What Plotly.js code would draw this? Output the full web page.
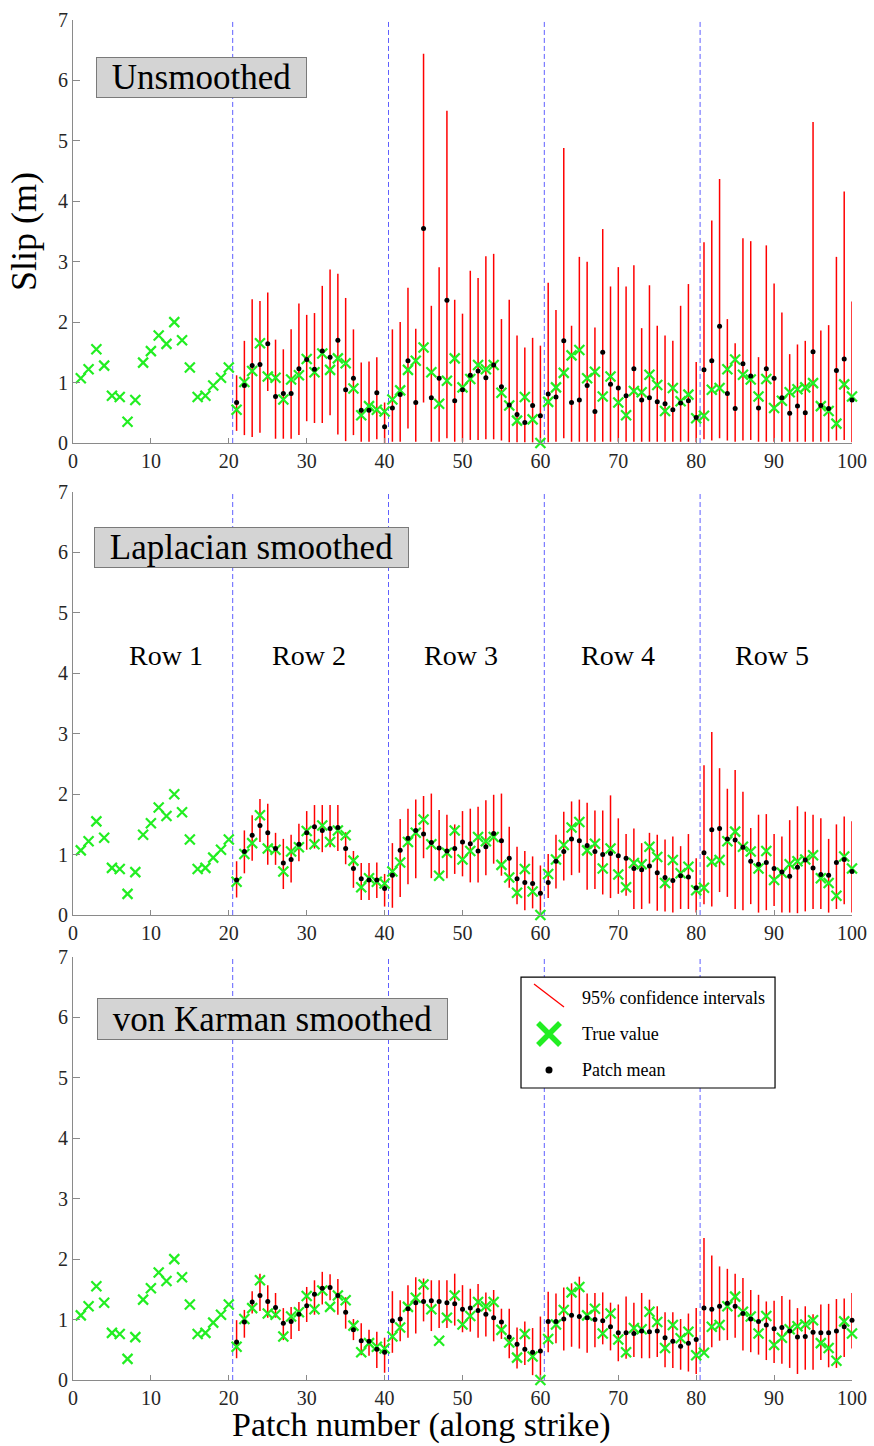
<!DOCTYPE html>
<html>
<head>
<meta charset="utf-8">
<script src="https://cdn.plot.ly/plotly-3.0.1.min.js"></script>
<style>
  html, body { margin: 0; padding: 0; background: #fff; }
  #chart { width: 874px; height: 1446px; }
</style>
</head>
<body>
<div id="chart"></div>
<script>
// Patch numbers along strike (5 rows of 20 patches)
const patchAll = [1,2,3,4,5,6,7,8,9,10,11,12,13,14,15,16,17,18,19,20,
  21,22,23,24,25,26,27,28,29,30,31,32,33,34,35,36,37,38,39,40,
  41,42,43,44,45,46,47,48,49,50,51,52,53,54,55,56,57,58,59,60,
  61,62,63,64,65,66,67,68,69,70,71,72,73,74,75,76,77,78,79,80,
  81,82,83,84,85,86,87,88,89,90,91,92,93,94,95,96,97,98,99,100];
// Patches with inverted slip (rows 2-5)
const patchInv = patchAll.slice(20);

// True slip (m) for every patch
const trueSlip = [1.07,1.22,1.55,1.28,0.78,0.76,0.35,0.71,1.33,1.52,
  1.78,1.64,2.00,1.70,1.25,0.76,0.78,0.95,1.08,1.25,
  0.55,1.01,1.19,1.65,1.10,1.08,0.72,1.05,1.12,1.39,
  1.17,1.48,1.21,1.40,1.32,0.90,0.46,0.61,0.55,0.52,
  0.72,0.87,1.21,1.36,1.58,1.17,0.65,1.03,1.40,0.92,
  1.06,1.29,1.22,1.29,0.83,0.62,0.37,0.76,0.39,0.00,
  0.68,0.92,1.16,1.45,1.54,1.07,1.18,0.77,1.10,0.67,
  0.46,0.86,0.84,1.13,0.96,0.53,0.91,0.69,0.80,0.41,
  0.45,0.88,0.91,1.22,1.38,1.13,1.05,0.77,1.06,0.58,
  0.70,0.84,0.89,0.92,0.99,0.61,0.53,0.32,0.97,0.77];

// Unsmoothed inversion: patch mean and 95% interval
const unsMean = [0.67,0.95,1.28,1.30,1.64,0.77,0.82,0.82,1.23,1.38,
  1.22,1.52,1.42,1.70,0.88,1.07,0.54,0.54,0.83,0.27,
  0.58,0.80,1.36,0.67,3.55,0.75,1.07,2.36,0.70,0.88,
  1.12,1.19,1.08,1.29,0.93,0.63,0.47,0.34,0.62,0.45,
  0.81,0.76,1.69,0.67,0.71,0.95,0.52,1.50,0.97,0.91,
  0.78,1.23,0.71,0.75,0.68,0.65,0.55,0.66,0.70,0.42,
  1.21,1.36,1.93,0.82,0.57,1.31,1.11,0.58,1.23,1.07,
  0.75,0.49,0.61,0.50,1.51,0.62,0.57,1.20,1.39,0.71];
const unsHigh = [1.12,1.69,2.38,2.35,2.49,1.71,1.55,1.88,2.31,2.12,
  2.15,2.60,2.87,2.80,2.40,1.88,1.33,1.35,1.42,0.67,
  1.88,2.00,2.57,1.89,6.44,2.27,2.91,5.50,2.37,2.14,
  2.85,2.73,3.09,3.13,2.05,2.37,1.78,1.58,1.74,1.61,
  2.65,2.20,4.88,1.94,3.08,3.00,1.91,3.54,2.59,2.91,
  2.59,2.94,1.90,2.61,1.94,1.78,1.69,2.27,2.63,1.34,
  3.32,3.68,4.37,2.05,1.65,3.39,3.34,1.42,3.27,2.64,
  2.16,1.47,1.63,1.69,5.31,1.86,1.95,3.08,4.16,2.34];
const unsLow = [0.20,0.13,0.10,0.17,0.86,0.07,0.07,0.07,0.13,0.36,
  0.33,0.33,0.46,0.14,0.03,0.13,0.02,0.02,0.06,0.00,
  0.02,0.02,0.24,0.02,0.67,0.02,0.02,0.08,0.02,0.02,
  0.05,0.05,0.06,0.06,0.04,0.01,0.01,0.01,0.01,0.01,
  0.01,0.02,0.08,0.02,0.02,0.02,0.02,0.02,0.02,0.02,
  0.02,0.02,0.02,0.02,0.02,0.02,0.02,0.02,0.02,0.01,
  0.06,0.04,0.08,0.04,0.02,0.04,0.05,0.02,0.02,0.02,
  0.02,0.02,0.02,0.02,0.02,0.02,0.02,0.04,0.05,0.01];

// Laplacian smoothed inversion
const lapMean = [0.58,1.05,1.32,1.48,1.36,1.10,0.86,0.92,1.17,1.36,
  1.46,1.40,1.43,1.45,1.10,0.77,0.60,0.58,0.58,0.44,
  0.66,1.07,1.27,1.40,1.34,1.20,1.11,1.06,1.10,1.21,
  1.18,1.06,1.13,1.35,1.23,0.94,0.60,0.54,0.52,0.36,
  0.54,0.89,1.05,1.26,1.23,1.15,1.05,1.00,1.02,0.98,
  0.94,0.77,0.75,0.81,0.70,0.62,0.57,0.65,0.63,0.45,
  1.03,1.41,1.43,1.26,1.24,1.12,0.89,0.84,0.87,0.77,
  0.71,0.64,0.79,0.91,0.78,0.67,0.66,0.87,0.92,0.72];
const lapHigh = [0.89,1.40,1.65,1.92,1.84,1.36,1.26,1.33,1.51,1.72,
  1.82,1.82,1.82,1.82,1.37,1.06,0.86,0.86,0.87,0.68,
  1.19,1.59,1.76,1.91,1.97,2.01,1.74,1.66,1.50,1.72,
  1.76,1.79,1.90,1.99,2.01,1.46,1.13,1.06,0.97,0.82,
  1.01,1.33,1.71,1.88,1.91,1.86,1.73,1.73,1.98,1.60,
  1.34,1.43,1.19,1.36,1.33,1.25,1.30,1.14,1.34,0.94,
  2.48,3.03,2.43,2.09,2.40,2.04,1.44,1.66,1.67,1.34,
  1.30,1.57,1.80,1.71,1.66,1.60,1.26,1.50,1.63,1.55];
const lapLow = [0.29,0.69,0.90,1.21,0.83,0.83,0.43,0.54,0.89,1.08,
  1.10,1.04,1.12,1.06,0.84,0.45,0.25,0.25,0.28,0.14,
  0.12,0.30,0.51,0.61,0.94,0.61,0.64,0.61,0.68,0.64,
  0.54,0.54,0.66,0.85,0.65,0.45,0.18,0.08,0.11,0.00,
  0.28,0.44,0.57,0.66,0.70,0.42,0.43,0.34,0.28,0.35,
  0.32,0.10,0.10,0.19,0.07,0.06,0.04,0.10,0.10,0.04,
  0.18,0.14,0.38,0.30,0.10,0.08,0.18,0.04,0.08,0.15,
  0.04,0.04,0.03,0.06,0.10,0.10,0.04,0.10,0.18,0.04];

// von Karman smoothed inversion
const vkMean = [0.63,0.96,1.29,1.40,1.30,1.20,0.94,0.97,1.09,1.23,
  1.42,1.52,1.53,1.40,1.12,0.83,0.65,0.64,0.51,0.46,
  0.98,1.01,1.18,1.28,1.30,1.31,1.30,1.28,1.26,1.17,
  1.19,1.15,1.09,1.03,0.96,0.71,0.59,0.51,0.46,0.48,
  0.97,0.97,1.01,1.07,1.05,1.03,1.00,0.98,0.88,0.78,
  0.78,0.77,0.81,0.80,0.81,0.70,0.64,0.56,0.61,0.67,
  1.19,1.17,1.22,1.27,1.22,1.10,1.01,0.97,0.91,0.85,
  0.87,0.81,0.71,0.72,0.79,0.78,0.78,0.81,0.88,0.99];
const vkHigh = [0.99,1.16,1.47,1.76,1.57,1.44,1.19,1.21,1.29,1.54,
  1.65,1.79,1.75,1.67,1.37,1.01,0.94,0.83,0.80,0.70,
  1.47,1.32,1.57,1.70,1.68,1.65,1.65,1.65,1.76,1.57,
  1.51,1.59,1.45,1.49,1.18,1.18,0.87,0.97,0.86,1.05,
  1.46,1.43,1.53,1.60,1.71,1.43,1.44,1.45,1.28,1.25,
  1.38,1.28,1.44,1.33,1.22,1.12,1.12,1.01,1.10,1.19,
  2.35,2.06,1.88,1.84,1.76,1.69,1.49,1.41,1.30,1.31,
  1.39,1.33,1.19,1.22,1.09,1.25,1.26,1.34,1.35,1.44];
const vkLow = [0.36,0.70,1.10,1.14,1.03,1.03,0.66,0.68,0.81,0.96,
  1.08,1.25,1.32,1.08,0.85,0.66,0.41,0.40,0.20,0.12,
  0.45,0.64,0.70,0.77,0.97,0.81,0.86,0.86,0.90,0.79,
  0.80,0.70,0.72,0.64,0.68,0.36,0.19,0.25,0.08,0.03,
  0.46,0.61,0.49,0.55,0.52,0.45,0.54,0.59,0.49,0.31,
  0.35,0.38,0.36,0.36,0.38,0.21,0.20,0.17,0.14,0.10,
  0.46,0.54,0.65,0.66,0.70,0.49,0.46,0.42,0.33,0.28,
  0.27,0.20,0.10,0.17,0.17,0.33,0.21,0.20,0.38,0.52];

// Row boundaries and row labels
const rowEdges = [20.5, 40.5, 60.5, 80.5];
const rowNames = ['Row 1', 'Row 2', 'Row 3', 'Row 4', 'Row 5'];
const rowLabelX = [11.9, 30.3, 49.8, 70.0, 89.7];
const rowLabelY = 4.3;
const panelTitles = ['Unsmoothed', 'Laplacian smoothed', 'von Karman smoothed'];
const legendLabels = ['95% confidence intervals', 'True value', 'Patch mean'];
const xTicks = [0, 10, 20, 30, 40, 50, 60, 70, 80, 90, 100];
const yTicks = [0, 1, 2, 3, 4, 5, 6, 7];

const SERIF = '"Liberation Serif", "Times New Roman", serif';
const GREEN = '#22ee22';
const AXIS_GREY = '#8a8a8a';
const DASH_BLUE = 'rgb(95,95,255)';

const panels = [
  { mean: unsMean, low: unsLow, high: unsHigh },
  { mean: lapMean, low: lapLow, high: lapHigh },
  { mean: vkMean,  low: vkLow,  high: vkHigh }
];

const traces = [];
panels.forEach((p, i) => {
  const xa = i === 0 ? 'x' : 'x' + (i + 1);
  const ya = i === 0 ? 'y' : 'y' + (i + 1);
  // 95% interval as vertical error bars around the mean
  traces.push({
    x: patchInv, y: p.mean, xaxis: xa, yaxis: ya,
    type: 'scatter', mode: 'markers',
    marker: { size: 1, opacity: 0 },
    error_y: {
      type: 'data', symmetric: false,
      array: p.high.map((h, k) => h - p.mean[k]),
      arrayminus: p.low.map((l, k) => p.mean[k] - l),
      color: '#ff0000', thickness: 1.5, width: 0
    },
    cliponaxis: false, hoverinfo: 'skip', showlegend: false
  });
  // true slip
  traces.push({
    x: patchAll, y: trueSlip, xaxis: xa, yaxis: ya,
    type: 'scatter', mode: 'markers',
    marker: { symbol: 'x-thin', size: 10, color: GREEN, line: { color: GREEN, width: 2.2 } },
    cliponaxis: false, hoverinfo: 'skip', showlegend: false
  });
  // posterior patch mean
  traces.push({
    x: patchInv, y: p.mean, xaxis: xa, yaxis: ya,
    type: 'scatter', mode: 'markers',
    marker: { symbol: 'circle', size: 5, color: '#000' },
    cliponaxis: false, hoverinfo: 'skip', showlegend: false
  });
});

// Legend glyphs, drawn in a small helper subplot
traces.push({
  x: [13, 43], y: [104, 81], xaxis: 'x4', yaxis: 'y4',
  type: 'scatter', mode: 'lines', line: { color: '#ff0000', width: 1.3 },
  hoverinfo: 'skip', showlegend: false
});
traces.push({
  x: [28], y: [54], xaxis: 'x4', yaxis: 'y4',
  type: 'scatter', mode: 'markers',
  marker: { symbol: 'x-thin', size: 22, color: GREEN, line: { color: GREEN, width: 5.5 } },
  hoverinfo: 'skip', showlegend: false
});
traces.push({
  x: [28], y: [18], xaxis: 'x4', yaxis: 'y4',
  type: 'scatter', mode: 'markers',
  marker: { symbol: 'circle', size: 7, color: '#000' },
  hoverinfo: 'skip', showlegend: false
});

function xAxis(anchor) {
  return {
    anchor: anchor, domain: [0, 1], range: [0, 100],
    tickmode: 'array', tickvals: xTicks, ticktext: xTicks.map(String),
    ticks: 'inside', ticklen: 5, tickcolor: AXIS_GREY, tickwidth: 1,
    showline: true, linecolor: AXIS_GREY, linewidth: 1,
    showgrid: false, zeroline: false, fixedrange: true,
    tickfont: { family: SERIF, size: 20, color: '#262626' }
  };
}
function yAxis(anchor, domain) {
  return {
    anchor: anchor, domain: domain, range: [0, 7],
    tickmode: 'array', tickvals: yTicks, ticktext: yTicks.map(String),
    ticks: 'inside', ticklen: 7, tickcolor: AXIS_GREY, tickwidth: 1,
    showline: true, linecolor: AXIS_GREY, linewidth: 1,
    showgrid: false, zeroline: false, fixedrange: true,
    tickfont: { family: SERIF, size: 20, color: '#262626' }
  };
}

const layout = {
  width: 874, height: 1446,
  margin: { l: 73, r: 22, t: 20, b: 66 },
  paper_bgcolor: '#fff', plot_bgcolor: 'rgba(0,0,0,0)',
  showlegend: false,
  xaxis: xAxis('y'),
  yaxis: Object.assign(yAxis('x', [0.689, 1.0]), {
    title: { text: 'Slip (m)', font: { family: SERIF, size: 36, color: '#000' }, standoff: 10 }
  }),
  xaxis2: xAxis('y2'),
  yaxis2: yAxis('x2', [0.3419, 0.6529]),
  xaxis3: xAxis('y3'),
  yaxis3: yAxis('x3', [0, 0.311]),
  xaxis4: { anchor: 'y4', domain: [0.5751, 0.9012], range: [0, 254], visible: false, fixedrange: true },
  yaxis4: { anchor: 'x4', domain: [0.2147, 0.2963], range: [0, 111], visible: false, fixedrange: true },
  shapes: [],
  annotations: []
};

// dashed row boundaries in every panel
['', '2', '3'].forEach(s => {
  rowEdges.forEach(xv => {
    layout.shapes.push({
      type: 'line', xref: 'x' + s, yref: 'y' + s + ' domain',
      x0: xv, x1: xv, y0: 0, y1: 1, layer: 'below',
      line: { color: DASH_BLUE, width: 1, dash: '5px,3px' }
    });
  });
});
// legend frame
layout.shapes.push({
  type: 'rect', xref: 'x4 domain', yref: 'y4 domain',
  x0: 0, x1: 1, y0: 0, y1: 1, layer: 'below',
  fillcolor: '#fff', line: { color: '#000', width: 1.2 }
});

// panel titles in grey boxes
const titleBoxes = [
  { xref: 'x domain',  yref: 'y domain',  x: 0.0295, y: 0.9125, w: 209, h: 39 },
  { xref: 'x2 domain', yref: 'y2 domain', x: 0.0270, y: 0.9173, w: 313, h: 39 },
  { xref: 'x3 domain', yref: 'y3 domain', x: 0.0308, y: 0.9031, w: 349, h: 40 }
];
panelTitles.forEach((t, i) => {
  const b = titleBoxes[i];
  layout.annotations.push({
    text: t, xref: b.xref, yref: b.yref, x: b.x, y: b.y,
    xanchor: 'left', yanchor: 'top', showarrow: false,
    width: b.w, height: b.h, align: 'center', valign: 'middle',
    bgcolor: '#d4d4d4', bordercolor: '#7a7a7a', borderwidth: 1, borderpad: 0,
    font: { family: SERIF, size: 35, color: '#000' }
  });
});

// row labels in the middle panel
rowNames.forEach((t, i) => {
  layout.annotations.push({
    text: t, xref: 'x2', yref: 'y2', x: rowLabelX[i], y: rowLabelY,
    showarrow: false, xanchor: 'center', yanchor: 'middle',
    font: { family: SERIF, size: 28, color: '#000' }
  });
});

// legend texts
[90, 54, 18].forEach((yv, i) => {
  layout.annotations.push({
    text: legendLabels[i], xref: 'x4', yref: 'y4', x: 59, y: yv,
    showarrow: false, xanchor: 'left', yanchor: 'middle',
    font: { family: SERIF, size: 18, color: '#000' }
  });
});

// x-axis label under the bottom panel
layout.annotations.push({
  text: 'Patch number (along strike)', xref: 'paper', yref: 'paper',
  x: 0.4474, y: -0.0331, xanchor: 'center', yanchor: 'middle', showarrow: false,
  font: { family: SERIF, size: 34, color: '#000' }
});

Plotly.newPlot('chart', traces, layout, { displayModeBar: false, staticPlot: true });
</script>
</body>
</html>
